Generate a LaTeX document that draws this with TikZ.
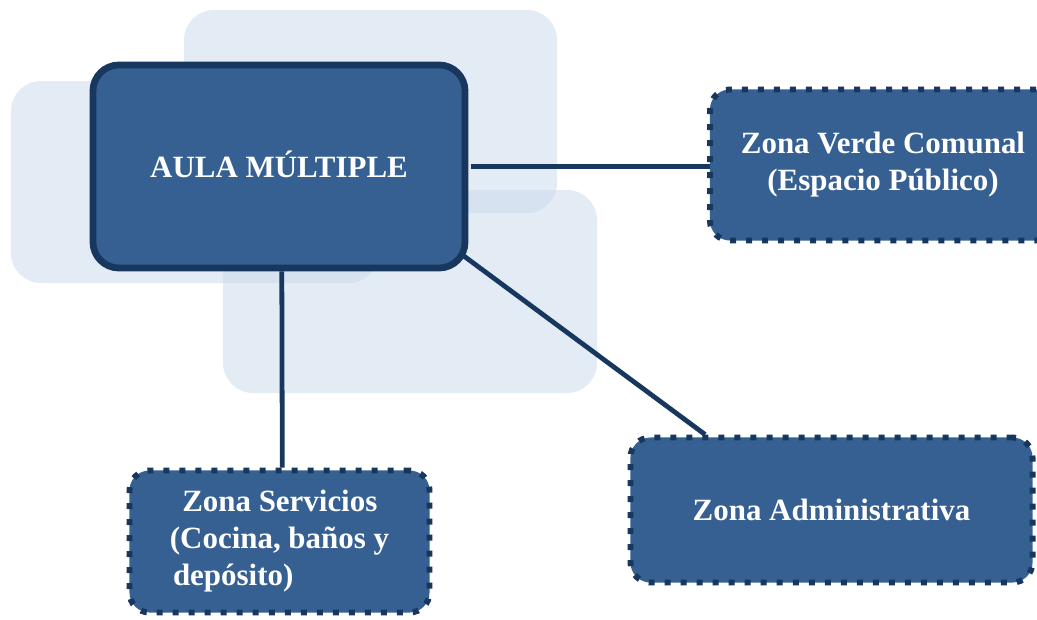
\documentclass[tikz,border=0pt]{standalone}
\usepackage{fontspec}
\setmainfont{Liberation Serif}
\usetikzlibrary{positioning, calc}
\definecolor{boxblue}{HTML}{376092}
\definecolor{boxline}{HTML}{17375E}
\definecolor{shadeblue}{HTML}{C8D8EB}
\pgfdeclarelayer{back}
\pgfdeclarelayer{links}
\pgfsetlayers{back,links,main}

\begin{document}
\begin{tikzpicture}[
        x=0.025cm, y=-0.025cm,
        shade/.style={fill=shadeblue, fill opacity=0.5, rounded corners=0.75cm},
        core/.style={rectangle, draw=boxline, line width=4.8pt, fill=boxblue, rounded corners=0.65cm, text=white, font=\bfseries\fontsize{22}{26.3}\selectfont, align=center},
        zone/.style={rectangle, draw=boxline, line width=4.2pt, dash pattern=on 0.15cm off 0.25cm, fill=boxblue, rounded corners=0.5cm, text=white, font=\bfseries\fontsize{22}{26.3}\selectfont},
        line/.style={draw=boxline, line width=3.4pt}
    ]
        \useasboundingbox (0,0) rectangle (1037,619);

        \begin{pgfonlayer}{back}
            \fill[shade] (11,81) rectangle (379,283);
            \fill[shade] (184,10) rectangle (557,213);
            \fill[shade] (223,190) rectangle (597,393);
        \end{pgfonlayer}

        \node[core, minimum width=9.3cm, minimum height=5.075cm] (aula) at (279,166.5) {\raisebox{0.1cm}{AULA MÚLTIPLE}};
        \node[zone, align=center, minimum width=8.65cm, minimum height=3.775cm] (verde) at (883,165) {Zona Verde Comunal\\(Espacio Público)};
        \node[zone, align=center, minimum width=10.05cm, minimum height=3.625cm] (admin) at (831.5,510) {Zona Administrativa};
        \node[zone, align=left, minimum width=7.5cm, minimum height=3.55cm] (servicios) at (279.5,541.5) {\hspace*{0.4em}Zona Servicios\\(Cocina, baños y\\\hspace*{0.1em}depósito)};

        \begin{pgfonlayer}{links}
            \draw[line] ([xshift=0.07cm]aula.east) -- ([xshift=0.07cm]aula.east -| verde.west);
            \draw[line] ([xshift=0.07cm]aula.south) -- ([xshift=0.07cm]servicios.north);
            \draw[line] ($(aula.south east)+(-25,-30.5)$) -- ([xshift=1.94cm]admin.north west);
        \end{pgfonlayer}

    \end{tikzpicture}
\end{document}
